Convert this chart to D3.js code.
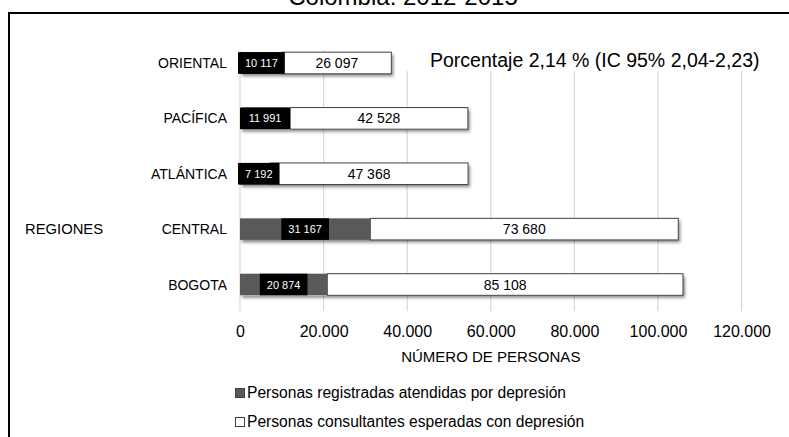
<!DOCTYPE html>
<html>
<head>
<meta charset="utf-8">
<script src="https://cdn.jsdelivr.net/npm/d3@7"></script>
<style>
    body{ margin:0; background:#fff; }
    svg text{ font-family:'Liberation Sans', Arial, sans-serif; }
</style>
</head>
<body>
<div id="chart"></div>
<script>
// data
var regions = ['ORIENTAL', 'PACÍFICA', 'ATLÁNTICA', 'CENTRAL', 'BOGOTA'];
var atendidas = [10117, 11991, 7192, 31167, 20874];
var esperadas = [26097, 42528, 47368, 73680, 85108];
var xTicks = [0, 20000, 40000, 60000, 80000, 100000, 120000];
var seriesNames = ['Personas registradas atendidas por depresión', 'Personas consultantes esperadas con depresión'];
var titleText = 'Colombia: 2012-2015';
var noteText = 'Porcentaje 2,14 % (IC 95% 2,04-2,23)';

// darker first segment for the first three regions
var darkFill = ['#000', '#000', '#000', '#595959', '#595959'];

var width = 789, height = 437;

var tickFmt = d3.formatLocale({decimal: ',', thousands: '.', grouping: [3], currency: ['', '']}).format(',d');
var labelFmt = d3.formatLocale({decimal: ',', thousands: ' ', grouping: [3], currency: ['', '']}).format(',d');

var svg = d3.select('#chart').append('svg')
    .attr('width', width)
    .attr('height', height);

var defs = svg.append('defs');
defs.append('filter')
    .attr('id', 'shadow')
    .attr('x', '-5%').attr('y', '-20%')
    .attr('width', '115%').attr('height', '170%')
    .append('feDropShadow')
    .attr('dx', 2).attr('dy', 2.5)
    .attr('stdDeviation', 1.5)
    .attr('flood-color', '#000')
    .attr('flood-opacity', 0.45);

// title (the page edge cuts it, as in the source image)
svg.append('text')
    .attr('x', 403).attr('y', 4.5)
    .attr('text-anchor', 'middle')
    .style('font-size', '24px')
    .text(titleText);

// frame
svg.append('rect')
    .attr('x', 9).attr('y', 13)
    .attr('width', 800).attr('height', 440)
    .attr('fill', 'none')
    .attr('stroke', '#000')
    .attr('stroke-width', 2);

var x = d3.scaleLinear().domain([0, 120000]).range([240, 741.6]);
var y = d3.scaleBand().domain(regions).range([35.3, 312.2])
    .paddingInner(0.61).paddingOuter(0.305);

// gridlines
svg.append('g').selectAll('line').data(xTicks).enter()
    .append('line')
    .attr('x1', function(d){ return x(d) })
    .attr('x2', function(d){ return x(d) })
    .attr('y1', 50).attr('y2', 311)
    .attr('stroke', '#d9d9d9')
    .attr('stroke-width', 1.2);

// note box covers the grid behind it
svg.append('rect')
    .attr('x', 402).attr('y', 44)
    .attr('width', 380).attr('height', 27)
    .attr('fill', '#fff');
svg.append('text')
    .attr('x', 430).attr('y', 67)
    .style('font-size', '19.5px')
    .text(noteText);

// tick labels
var xAxis = d3.axisBottom(x).tickValues(xTicks).tickFormat(tickFmt).tickSize(0).tickPadding(0);
var gx = svg.append('g')
    .attr('transform', 'translate(0,326)')
    .call(xAxis);
gx.select('.domain').remove();
gx.selectAll('text')
    .style('font-family', "'Liberation Sans', Arial, sans-serif")
    .style('font-size', '16px')
    .attr('fill', '#000');

svg.append('text')
    .attr('x', (x(0) + x(120000)) / 2).attr('y', 362)
    .attr('text-anchor', 'middle')
    .style('font-size', '15px')
    .text('NÚMERO DE PERSONAS');

// category labels
svg.append('g').selectAll('text').data(regions).enter()
    .append('text')
    .attr('x', 227)
    .attr('y', function(d){ return y(d) + y.bandwidth() / 2 + 5 })
    .attr('text-anchor', 'end')
    .style('font-size', '14px')
    .text(function(d){ return d });

svg.append('text')
    .attr('x', 25).attr('y', y('CENTRAL') + y.bandwidth() / 2 + 5)
    .style('font-size', '14.8px')
    .text('REGIONES');

// bars
var rows = regions.map(function(r, i){
    return {key: r, a: atendidas[i], e: esperadas[i], fill: darkFill[i]};
});

var bar = svg.append('g').selectAll('g').data(rows).enter()
    .append('g')
    .attr('transform', function(d){ return 'translate(0,' + y(d.key) + ')' });

// shadow under the whole bar
bar.append('rect')
    .attr('x', x(0))
    .attr('width', function(d){ return x(d.a + d.e) - x(0) })
    .attr('height', y.bandwidth())
    .attr('fill', '#fff')
    .attr('filter', 'url(#shadow)');

bar.append('rect')
    .attr('x', function(d){ return x(d.a) })
    .attr('width', function(d){ return x(d.a + d.e) - x(d.a) })
    .attr('height', y.bandwidth())
    .attr('fill', '#fff')
    .attr('stroke', '#404040')
    .attr('stroke-width', 1);

bar.append('rect')
    .attr('x', x(0))
    .attr('width', function(d){ return x(d.a) - x(0) })
    .attr('height', y.bandwidth())
    .attr('fill', function(d){ return d.fill });

// white segment labels
bar.append('text')
    .attr('x', function(d){ return (x(d.a) + x(d.a + d.e)) / 2 })
    .attr('y', y.bandwidth() / 2 + 5)
    .attr('text-anchor', 'middle')
    .style('font-size', '14px')
    .text(function(d){ return labelFmt(d.e) });

// dark segment labels on a black box
var lab = bar.append('g');
lab.append('text')
    .attr('y', y.bandwidth() / 2 + 4)
    .attr('text-anchor', 'middle')
    .attr('fill', '#fff')
    .style('font-size', '11px')
    .text(function(d){ return labelFmt(d.a) });
lab.each(function(d){
    var g = d3.select(this);
    var t = g.select('text');
    var w = t.node().getComputedTextLength() + 14;
    var cx = (x(0) + x(d.a)) / 2;
    var left = Math.max(cx - w / 2, x(0) - 2);
    t.attr('x', left + w / 2);
    g.insert('rect', 'text')
        .attr('x', left)
        .attr('width', w)
        .attr('height', y.bandwidth())
        .attr('fill', '#000');
});

// legend
var legend = svg.append('g').selectAll('g').data(seriesNames).enter()
    .append('g')
    .attr('transform', function(d, i){ return 'translate(235,' + (398 + i * 29) + ')' });
legend.append('rect')
    .attr('x', 0.5).attr('y', -9.5)
    .attr('width', 9).attr('height', 9)
    .attr('fill', function(d, i){ return i == 0 ? '#595959' : '#fff' })
    .attr('stroke', '#404040')
    .attr('stroke-width', 1);
legend.append('text')
    .attr('x', 12).attr('y', 0)
    .style('font-size', '15.6px')
    .text(function(d){ return d });
</script>
</body>
</html>
